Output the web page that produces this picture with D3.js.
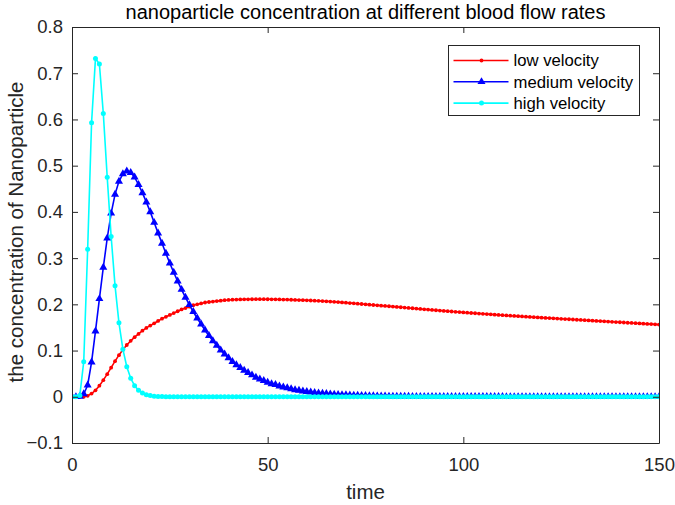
<!DOCTYPE html>
<html>
<head>
<meta charset="utf-8">
<script src="https://cdn.jsdelivr.net/npm/d3@7"></script>
<style>
  body { margin: 0; background: #fff; }
  svg { font-family: "Liberation Sans", Arial, Helvetica, sans-serif; }
</style>
</head>
<body>
<div id="chart"></div>
<script>
// time samples (0..150, one per unit)
const time = d3.range(0, 151);

// low velocity (red)
const lowVelocity = [
  0, 0, 0, 0, 0.002, 0.007, 0.014, 0.024, 0.036, 0.049,
  0.063, 0.077, 0.090, 0.102, 0.112, 0.121, 0.129, 0.136, 0.143, 0.149,
  0.154, 0.159, 0.164, 0.169, 0.173, 0.177, 0.181, 0.185, 0.189, 0.192,
  0.195, 0.198, 0.200, 0.202, 0.204, 0.205, 0.206, 0.207, 0.208, 0.209,
  0.2095, 0.2100, 0.2103, 0.2106, 0.2108, 0.2109, 0.2110, 0.2111, 0.2111, 0.2111,
  0.2110, 0.2109, 0.2108, 0.2106, 0.2104, 0.2102, 0.2099, 0.2096, 0.2093, 0.2090,
  0.2087, 0.2083, 0.2079, 0.2075, 0.2070, 0.2065, 0.2060, 0.2054, 0.2048, 0.2042,
  0.2035, 0.2028, 0.2021, 0.2014, 0.2007, 0.2000, 0.1993, 0.1986, 0.1979, 0.1972,
  0.1965, 0.1958, 0.1951, 0.1944, 0.1937, 0.1930, 0.1922, 0.1915, 0.1908, 0.1900,
  0.1893, 0.1886, 0.1879, 0.1872, 0.1865, 0.1858, 0.1852, 0.1845, 0.1838, 0.1832,
  0.1825, 0.1819, 0.1813, 0.1807, 0.1801, 0.1795, 0.1789, 0.1783, 0.1777, 0.1771,
  0.1765, 0.1760, 0.1754, 0.1749, 0.1744, 0.1738, 0.1733, 0.1728, 0.1722, 0.1717,
  0.1712, 0.1707, 0.1702, 0.1697, 0.1692, 0.1687, 0.1682, 0.1677, 0.1672, 0.1667,
  0.1662, 0.1657, 0.1652, 0.1647, 0.1642, 0.1637, 0.1632, 0.1627, 0.1622, 0.1617,
  0.1612, 0.1607, 0.1602, 0.1597, 0.1592, 0.1587, 0.1582, 0.1577, 0.1572, 0.1567,
  0.1562
];

// medium velocity (blue)
const mediumVelocity = [
  0, 0, 0.001, 0.006, 0.025, 0.075, 0.142, 0.212, 0.280, 0.343,
  0.397, 0.438, 0.466, 0.482, 0.488, 0.485, 0.475, 0.459, 0.441, 0.421,
  0.400, 0.377, 0.354, 0.332, 0.310, 0.289, 0.269, 0.250, 0.232, 0.215,
  0.199, 0.184, 0.170, 0.157, 0.144, 0.132, 0.121, 0.111, 0.101, 0.092,
  0.084, 0.076, 0.069, 0.063, 0.057, 0.052, 0.047, 0.042, 0.038, 0.035,
  0.031, 0.028, 0.026, 0.023, 0.021, 0.019, 0.017, 0.015, 0.014, 0.012,
  0.011, 0.010, 0.009, 0.008, 0.0073, 0.0066, 0.0059, 0.0053, 0.0048, 0.0043,
  0.0039, 0.0035, 0.0031, 0.0028, 0.0025, 0.0022, 0.0020, 0.0018, 0.0016, 0.0014,
  0.0013, 0.0011, 0.0010, 0.0009, 0.0008, 0.0007, 0.0006, 0.0005, 0.0005, 0.0004,
  0.0004, 0.0003, 0.0003, 0.0003, 0.0003, 0.0003, 0.0002, 0.0002, 0.0002, 0.0002,
  0.0002, 0.0001, 0.0001, 0.0001, 0.0001, 0.0001, 0.0001, 0.0001, 0.0001, 0.0001,
  0.0001, 0, 0, 0, 0, 0, 0, 0, 0, 0,
  0, 0, 0, 0, 0, 0, 0, 0, 0, 0,
  0, 0, 0, 0, 0, 0, 0, 0, 0, 0,
  0, 0, 0, 0, 0, 0, 0, 0, 0, 0,
  0
];

// high velocity (cyan)
const highVelocity = [
  0, 0, 0.003, 0.076, 0.319, 0.593, 0.732, 0.720, 0.613, 0.475,
  0.347, 0.240, 0.160, 0.103, 0.065, 0.040, 0.024, 0.014, 0.008, 0.0045,
  0.0025, 0.0014, 0.0008, 0.0004, 0.0002, 0.0001, 0, 0, 0, 0,
  0, 0, 0, 0, 0, 0, 0, 0, 0, 0,
  0, 0, 0, 0, 0, 0, 0, 0, 0, 0,
  0, 0, 0, 0, 0, 0, 0, 0, 0, 0,
  0, 0, 0, 0, 0, 0, 0, 0, 0, 0,
  0, 0, 0, 0, 0, 0, 0, 0, 0, 0,
  0, 0, 0, 0, 0, 0, 0, 0, 0, 0,
  0, 0, 0, 0, 0, 0, 0, 0, 0, 0,
  0, 0, 0, 0, 0, 0, 0, 0, 0, 0,
  0, 0, 0, 0, 0, 0, 0, 0, 0, 0,
  0, 0, 0, 0, 0, 0, 0, 0, 0, 0,
  0, 0, 0, 0, 0, 0, 0, 0, 0, 0,
  0, 0, 0, 0, 0, 0, 0, 0, 0, 0,
  0
];

const seriesNames = ["low velocity", "medium velocity", "high velocity"];
const xTicks = [0, 50, 100, 150];
const yTicks = [-0.1, 0, 0.1, 0.2, 0.3, 0.4, 0.5, 0.6, 0.7, 0.8];

const series = [
  { name: seriesNames[0], values: lowVelocity, color: "#ff0000", marker: "dot" },
  { name: seriesNames[1], values: mediumVelocity, color: "#0000ff", marker: "triangle" },
  { name: seriesNames[2], values: highVelocity, color: "#00ffff", marker: "circle" }
];

const W = 675, H = 505;
const margin = { top: 27, right: 16, bottom: 62, left: 72 };
const width = W - margin.left - margin.right;
const height = H - margin.top - margin.bottom;
const axisColor = "#262626";

const svg = d3.select("#chart").append("svg")
  .attr("width", W)
  .attr("height", H);

const g = svg.append("g")
  .attr("transform", "translate(" + margin.left + "," + margin.top + ")");

const x = d3.scaleLinear().domain([0, 150]).range([0, width]);
const y = d3.scaleLinear().domain([-0.1, 0.8]).range([height, 0]);

// clip for data
svg.append("defs").append("clipPath").attr("id", "plotclip")
  .append("rect").attr("x", 0).attr("y", 0).attr("width", width).attr("height", height);

const plot = g.append("g").attr("clip-path", "url(#plotclip)");

const line = d3.line()
  .x((d, i) => x(time[i]))
  .y(d => y(d));

function drawMarker(sel, type, color) {
  if (type === "dot") {
    sel.append("circle").attr("r", 1.9).attr("fill", color);
  } else if (type === "triangle") {
    sel.append("path")
      .attr("d", d3.symbol().type(d3.symbolTriangle).size(28)())
      .attr("fill", color);
  } else {
    sel.append("circle").attr("r", 2.5).attr("fill", color);
  }
}

series.forEach(s => {
  plot.append("path")
    .datum(s.values)
    .attr("fill", "none")
    .attr("stroke", s.color)
    .attr("stroke-width", 1.6)
    .attr("d", line);

  const marks = plot.append("g").selectAll("g")
    .data(s.values)
    .enter()
    .append("g")
    .attr("transform", (d, i) => "translate(" + x(time[i]) + "," + y(d) + ")");
  drawMarker(marks, s.marker, s.color);
});

// axes (box with inward ticks on all sides)
const tickLen = 6;
const xAxisB = d3.axisBottom(x).tickValues(xTicks).tickSizeInner(-tickLen).tickSizeOuter(0).tickPadding(15).tickFormat(d3.format("d"));
const xAxisT = d3.axisTop(x).tickValues(xTicks).tickSizeInner(-tickLen).tickSizeOuter(0).tickFormat("");
const yAxisL = d3.axisLeft(y).tickValues(yTicks).tickSizeInner(-tickLen).tickSizeOuter(0).tickPadding(9).tickFormat(d => d === 0 ? "0" : d3.format(".1f")(d));
const yAxisR = d3.axisRight(y).tickValues(yTicks).tickSizeInner(-tickLen).tickSizeOuter(0).tickFormat("");

function styleAxis(a) {
  a.select(".domain").attr("stroke", axisColor).attr("stroke-width", 1);
  a.selectAll(".tick line").attr("stroke", axisColor).attr("stroke-width", 1);
  a.selectAll(".tick text").attr("fill", axisColor).attr("font-size", "18.5px")
    .attr("font-family", "Liberation Sans, Arial, sans-serif");
}

styleAxis(g.append("g").attr("transform", "translate(0," + height + ")").call(xAxisB));
styleAxis(g.append("g").call(xAxisT));
styleAxis(g.append("g").call(yAxisL));
styleAxis(g.append("g").attr("transform", "translate(" + width + ",0)").call(yAxisR));

// title and axis labels
svg.append("text")
  .attr("x", margin.left + width / 2)
  .attr("y", 18.5)
  .attr("text-anchor", "middle")
  .attr("font-size", "20px")
  .attr("fill", "#000")
  .text("nanoparticle concentration at different blood flow rates");

svg.append("text")
  .attr("x", margin.left + width / 2)
  .attr("y", 499)
  .attr("text-anchor", "middle")
  .attr("font-size", "20.5px")
  .attr("fill", axisColor)
  .text("time");

svg.append("text")
  .attr("transform", "rotate(-90)")
  .attr("x", -232)
  .attr("y", 22.5)
  .attr("text-anchor", "middle")
  .attr("font-size", "20.5px")
  .attr("fill", axisColor)
  .text("the concentration of Nanoparticle");

// legend
const legend = svg.append("g").attr("transform", "translate(448.5,45.5)");
legend.append("rect")
  .attr("width", 191)
  .attr("height", 70)
  .attr("fill", "#fff")
  .attr("stroke", axisColor)
  .attr("stroke-width", 1);

series.forEach((s, i) => {
  const row = legend.append("g").attr("transform", "translate(0," + (15 + i * 21.3) + ")");
  row.append("line")
    .attr("x1", 5).attr("x2", 60)
    .attr("stroke", s.color).attr("stroke-width", 1.6);
  drawMarker(row.append("g").attr("transform", "translate(33,0)"), s.marker, s.color);
  row.append("text")
    .attr("x", 65)
    .attr("dy", "0.35em")
    .attr("font-size", "16.7px")
    .attr("fill", "#000")
    .text(s.name);
});
</script>
</body>
</html>
